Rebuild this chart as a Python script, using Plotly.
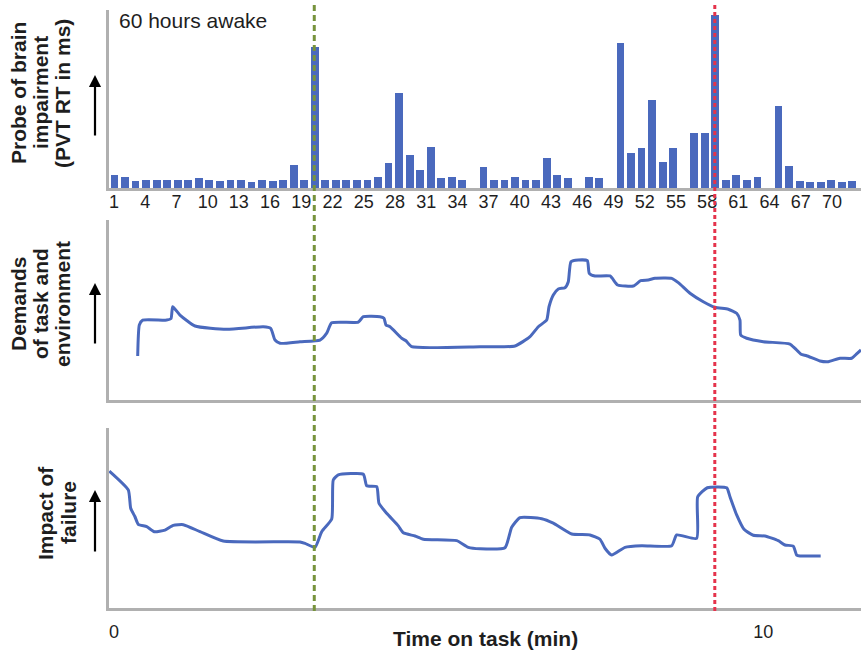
import plotly.graph_objects as go

# ---------------- data ----------------
# Top panel: PVT reaction-time probe per trial (arbitrary units)
trial = list(range(1, 72))
pvt_rt = [13, 10.7, 6.7, 7.7, 7.7, 7.7, 7.7, 7.7, 9.7, 7.7,
          6.7, 7.7, 7.7, 5.7, 7.7, 6.7, 7.7, 23, 7.7, 140.7,
          7.7, 7.7, 7.7, 7.7, 7.7, 10.7, 24.7, 94.7, 32.7, 17.7,
          40.7, 9.7, 10.7, 7.7, 0, 20.7, 7.7, 7.7, 10.7, 7.7,
          7.7, 29.7, 12.7, 9.7, 0, 10.7, 9.7, 0, 145, 35,
          40, 88, 26, 40, 0, 55, 55, 173, 7.7, 12.7,
          7.7, 10.7, 0, 82, 22, 6.7, 5.7, 5.7, 7.7, 5.7, 6.7]
trial_ticks = list(range(1, 71, 3))
lapse_green = 20
lapse_red = 58

# Middle panel: demands of task and environment (time in min, relative level)
dem_t = [0.365, 0.390, 0.442, 0.812, 0.878, 0.904, 1.016, 1.248, 1.736, 2.299,
         2.413, 2.480, 2.557, 2.865, 3.173, 3.276, 3.353, 3.763, 3.840, 4.097,
         4.158, 4.189, 4.251, 4.431, 4.497, 4.585, 5.637, 6.176, 6.407, 6.535,
         6.664, 6.700, 6.766, 6.843, 6.946, 6.997, 7.038, 7.151, 7.290, 7.320,
         7.408, 7.639, 7.758, 7.998, 8.112, 8.229, 8.332, 8.589, 8.691, 8.871,
         9.076, 9.256, 9.461, 9.590, 9.641, 9.652, 9.744, 10.000, 10.411, 10.488,
         10.581, 10.668, 10.873, 11.001, 11.181, 11.361, 11.438, 11.505]
dem_v = [24.4, 41.7, 44.4, 44.4, 45.2, 51.8, 47.2, 41.1, 39.3, 40.7,
         39.8, 33.3, 31.5, 32.4, 33.3, 37.1, 42.9, 43.3, 46.3, 46.3,
         45.4, 41.7, 40.7, 34.3, 32.9, 29.6, 29.6, 30.0, 35.2, 40.7,
         44.4, 51.8, 58.3, 61.7, 62.4, 65.7, 76.8, 77.8, 77.4, 70.4,
         68.9, 68.9, 63.9, 63.3, 66.3, 66.7, 67.6, 67.6, 65.2, 59.3,
         54.6, 51.5, 50.4, 48.2, 44.4, 36.1, 34.3, 32.4, 31.1, 28.7,
         25.4, 24.6, 21.7, 21.3, 23.2, 23.2, 25.6, 27.8]

# Bottom panel: impact of failure
imp_t = [-0.072, 0.220, 0.257, 0.323, 0.374, 0.504, 0.621, 0.785, 0.913, 1.067,
         1.325, 1.683, 2.865, 2.942, 3.096, 3.199, 3.353, 3.377, 3.454, 3.840,
         3.892, 4.046, 4.081, 4.200, 4.379, 4.456, 4.636, 4.764, 5.278, 5.457,
         5.637, 6.022, 6.125, 6.253, 6.587, 6.766, 7.049, 7.331, 7.485, 7.562,
         7.665, 7.870, 8.127, 8.589, 8.666, 8.974, 8.990, 9.138, 9.436, 9.487,
         9.590, 9.703, 9.846, 10.026, 10.231, 10.334, 10.462, 10.514, 10.565, 10.884]
imp_v = [76.1, 65.6, 55.4, 50.7, 46.5, 45.2, 42.4, 43.3, 45.9, 46.3,
         42.4, 37.2, 36.7, 35.9, 33.7, 42.4, 49.4, 71.1, 73.9, 74.3,
         67.9, 67.4, 58.2, 52.6, 45.6, 41.8, 40.0, 38.2, 37.4, 33.7,
         32.9, 33.5, 44.8, 50.2, 49.6, 47.1, 41.1, 40.6, 38.2, 33.2,
         29.4, 33.7, 34.6, 34.6, 40.6, 38.7, 61.8, 66.8, 66.8, 61.8,
         51.7, 43.7, 40.4, 40.0, 37.4, 35.0, 34.4, 29.4, 28.9, 28.9]
time_ticks = [0, 10]

# ---------------- style ----------------
BLUE = "#4A69BD"
AXIS = "#B0B0B0"
TXT = "#1e1e1e"
FONT = "Liberation Sans, Arial, sans-serif"
W, H = 861, 653

def px(xp):
    return xp / W

def py(yp):
    return 1 - yp / H

XDOM = [px(108.5), 1.0]

fig = go.Figure()
fig.add_trace(go.Bar(x=trial, y=pvt_rt, width=0.74, marker=dict(color=BLUE, line=dict(width=0)),
                     xaxis="x", yaxis="y", showlegend=False, hoverinfo="skip"))
fig.add_trace(go.Scatter(x=[None], y=[None], xaxis="x4", yaxis="y", showlegend=False,
                         hoverinfo="skip"))
fig.add_trace(go.Scatter(x=dem_t, y=dem_v, mode="lines",
                         line=dict(color=BLUE, width=3, shape="spline", smoothing=0.5),
                         xaxis="x2", yaxis="y2", showlegend=False, hoverinfo="skip"))
fig.add_trace(go.Scatter(x=imp_t, y=imp_v, mode="lines",
                         line=dict(color=BLUE, width=3, shape="spline", smoothing=0.5),
                         xaxis="x3", yaxis="y3", showlegend=False, hoverinfo="skip"))

axline = dict(showline=True, linecolor=AXIS, linewidth=3, showgrid=False, zeroline=False)
bar_pitch_lo, bar_pitch_hi = 0.478, 71.87
t_lo, t_hi = -0.0847, 11.505

fig.update_layout(
    width=W, height=H, margin=dict(l=0, r=0, t=0, b=0),
    paper_bgcolor="white", plot_bgcolor="white",
    font=dict(family=FONT, color=TXT, size=18),
    bargap=0,
    xaxis=dict(domain=XDOM, range=[bar_pitch_lo, bar_pitch_hi], anchor="y",
               showticklabels=False, ticks="", **axline),
    xaxis4=dict(domain=XDOM, range=[0.4715, 72.786], anchor="free", position=py(189),
                overlaying="x", type="linear",
                tickvals=trial_ticks, ticktext=[str(v) for v in trial_ticks],
                ticks="", tickfont=dict(size=18, color=TXT),
                showline=False, showgrid=False, zeroline=False),
    yaxis=dict(domain=[py(188), py(10)], range=[0, 178], anchor="x",
               showticklabels=False, ticks="", **axline),
    xaxis2=dict(domain=XDOM, range=[t_lo, t_hi], anchor="y2", showticklabels=False,
                ticks="", **axline),
    yaxis2=dict(domain=[py(400), py(220)], range=[0, 100], anchor="x2",
                showticklabels=False, ticks="", **axline),
    xaxis3=dict(domain=XDOM, range=[t_lo, t_hi], anchor="y3",
                tickvals=time_ticks, ticktext=[str(v) for v in time_ticks],
                ticks="outside", ticklen=5, tickcolor="rgba(0,0,0,0)",
                tickfont=dict(size=18, color=TXT), **axline),
    yaxis3=dict(domain=[py(608), py(428)], range=[0, 100], anchor="x3",
                showticklabels=False, ticks="", **axline),
)

# vertical dashed event lines through all panels
fig.add_shape(type="line", xref="x", yref="paper", x0=lapse_green, x1=lapse_green,
              y0=py(611), y1=py(4), line=dict(color="#77933C", width=3, dash="6px,4px"))
fig.add_shape(type="line", xref="x", yref="paper", x0=lapse_red, x1=lapse_red,
              y0=py(611), y1=py(4), line=dict(color="#E5334B", width=3, dash="4px,3px"))

ann = []
ann.append(dict(text="60 hours awake", x=px(117), y=py(20), xref="paper", yref="paper",
                xanchor="left", yanchor="middle", showarrow=False,
                font=dict(size=21, color=TXT, family=FONT)))
ann.append(dict(text="<b>Time on task (min)</b>", x=px(485), y=py(638), xref="paper", yref="paper",
                xanchor="center", yanchor="middle", showarrow=False,
                font=dict(size=21, color=TXT, family=FONT)))

titles = [
    (["Probe of brain", "impairment", "(PVT RT in ms)"], [19, 41, 63], 93, (75, 137)),
    (["Demands", "of task and", "environment"], [18, 40, 62], 304, (283, 345)),
    (["Impact of", "failure"], [45, 68], 513, (490, 553)),
]
for lines, xs, yc, (atop, abot) in titles:
    for ln, xc in zip(lines, xs):
        ann.append(dict(text="<b>" + ln + "</b>", x=px(xc), y=py(yc), xref="paper", yref="paper",
                        xanchor="center", yanchor="middle", textangle=-90, showarrow=False,
                        font=dict(size=21, color=TXT, family=FONT)))
    ann.append(dict(text="", x=px(95), y=py(atop), xref="paper", yref="paper",
                    showarrow=True, ax=0, ay=abot - atop, axref="pixel", ayref="pixel",
                    arrowhead=2, arrowsize=1.1, arrowwidth=2.2, arrowcolor="black",
                    standoff=0, startstandoff=0))
fig.update_layout(annotations=ann)

fig.write_html("out.html")
